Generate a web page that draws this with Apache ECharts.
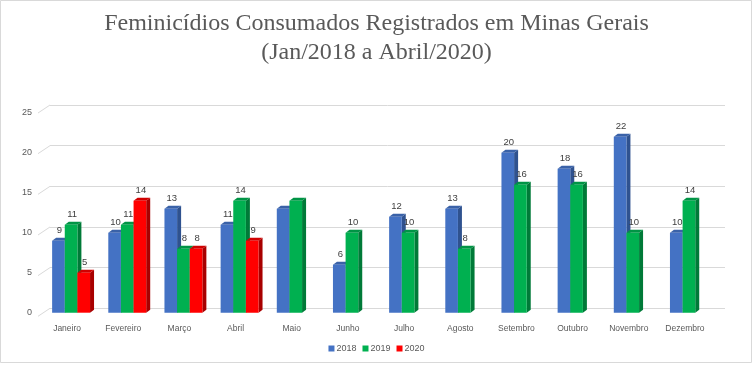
<!DOCTYPE html>
<html>
<head>
<meta charset="utf-8">
<script src="https://cdn.jsdelivr.net/npm/echarts@6/dist/echarts.min.js"></script>
<style>
html,body{margin:0;padding:0;background:#fff;}
#c{width:753px;height:365px;}
</style>
</head>
<body>
<div id="c"></div>
<script>
const categories = ['Janeiro','Fevereiro','Março','Abril','Maio','Junho','Julho','Agosto','Setembro','Outubro','Novembro','Dezembro'];
const seriesNames = ['2018','2019','2020'];
const values2018 = [9,10,13,11,13,6,12,13,20,18,22,10];
const values2019 = [11,11,8,14,14,10,10,8,16,16,10,14];
const values2020 = [5,14,8,9,null,null,null,null,null,null,null,null];
const yTicks = [0,5,10,15,20,25];
const unlabeledCategories = ['Maio'];

const allValues = [values2018, values2019, values2020];
const palette = [
  {front:'#4472C4', side:'#2F528F', top:'#3A62A8'},
  {front:'#00B050', side:'#007A38', top:'#009445'},
  {front:'#FF0000', side:'#A80000', top:'#D00000'}
];
const DX = 4, DY = 3;

function makeRender(si){
  const col = palette[si];
  return function(params, api){
    const cat = api.value(0), val = api.value(1);
    const base = api.coord([cat, 0]);
    const tp = api.coord([cat, val]);
    const bandW = api.size([1,0])[0];
    const bw = bandW*0.225;
    const x0 = base[0] + (si - 1.5)*bw;
    const x1 = x0 + bw;
    const yb = base[1], yt = tp[1];
    const children = [
      {type:'polygon', shape:{points:[[x1,yb],[x1,yt],[x1+DX,yt-DY],[x1+DX,yb-DY]]}, style:{fill:col.side}},
      {type:'polygon', shape:{points:[[x0,yt],[x1,yt],[x1+DX,yt-DY],[x0+DX,yt-DY]]}, style:{fill:col.top}},
      {type:'rect', shape:{x:x0, y:yt, width:bw, height:yb-yt}, style:{fill:col.front}}
    ];
    if (unlabeledCategories.indexOf(categories[cat]) < 0) {
      children.push({type:'text', style:{text:String(val), x:(x0+x1)/2+1, y:yt-10, align:'center', verticalAlign:'middle', textAlign:'center', textVerticalAlign:'middle', fill:'#404040', fontSize:9.5, fontFamily:'Liberation Sans'}});
    }
    return {type:'group', children};
  };
}

const barSeries = seriesNames.map((name, si) => ({
  name,
  type:'custom',
  xAxisIndex:0, yAxisIndex:0,
  renderItem: makeRender(si),
  itemStyle:{color: palette[si].front},
  encode:{x:0, y:1},
  data: allValues[si].map((v,i)=> v==null ? null : [i, v]).filter(d=>d)
}));

const slantSeries = {
  type:'custom',
  xAxisIndex:1, yAxisIndex:1,
  silent:true,
  renderItem:function(params, api){
    const p = api.coord([0, api.value(1)]);
    const left = params.coordSys.x;
    return {type:'line', shape:{x1:left-12, y1:p[1]+8, x2:left, y2:p[1]}, style:{stroke:'#d9d9d9', lineWidth:1}};
  },
  encode:{x:0, y:1},
  data: yTicks.map(v=>[0, v]),
  z:0
};

const chart = echarts.init(document.getElementById('c'), null, {renderer:'canvas'});
chart.setOption({
  animation:false,
  backgroundColor:'#fff',
  title:{
    text:'Feminicídios Consumados Registrados em Minas Gerais\n(Jan/2018 a Abril/2020)',
    left:'center', top:4,
    textStyle:{fontFamily:'Liberation Serif', fontSize:24, fontWeight:'normal', color:'#595959', lineHeight:29}
  },
  legend:{
    data:seriesNames, top:344, left:'center',
    itemWidth:6, itemHeight:6, itemGap:6, icon:'rect', padding:0,
    textStyle:{fontFamily:'Liberation Sans', fontSize:9, color:'#595959', padding:[0,0,0,-3]}
  },
  graphic:[{type:'rect', shape:{x:0.5, y:0.5, width:751, height:362}, style:{fill:'none', stroke:'#d9d9d9', lineWidth:1}, silent:true}],
  grid:[
    {left:43, width:674, top:112.7, height:200},
    {left:50, width:675, top:105, height:203.3}
  ],
  xAxis:[
    {type:'category', gridIndex:0, data:categories, axisLine:{show:false}, axisTick:{show:false},
     axisLabel:{fontFamily:'Liberation Sans', fontSize:8.5, color:'#595959', margin:11, padding:[0,8,0,0], interval:0}},
    {type:'category', gridIndex:1, data:categories, show:false}
  ],
  yAxis:[
    {type:'value', gridIndex:0, min:0, max:25, interval:5, splitLine:{show:false}, axisLine:{show:false}, axisTick:{show:false},
     axisLabel:{fontFamily:'Liberation Sans', fontSize:9, color:'#595959', margin:11, padding:[6,0,0,0]}},
    {type:'value', gridIndex:1, min:0, max:25, interval:5, axisLabel:{show:false}, axisLine:{show:false}, axisTick:{show:false},
     splitLine:{show:true, lineStyle:{color:'#d9d9d9', width:1}}}
  ],
  series:[slantSeries].concat(barSeries)
});
</script>
</body>
</html>
